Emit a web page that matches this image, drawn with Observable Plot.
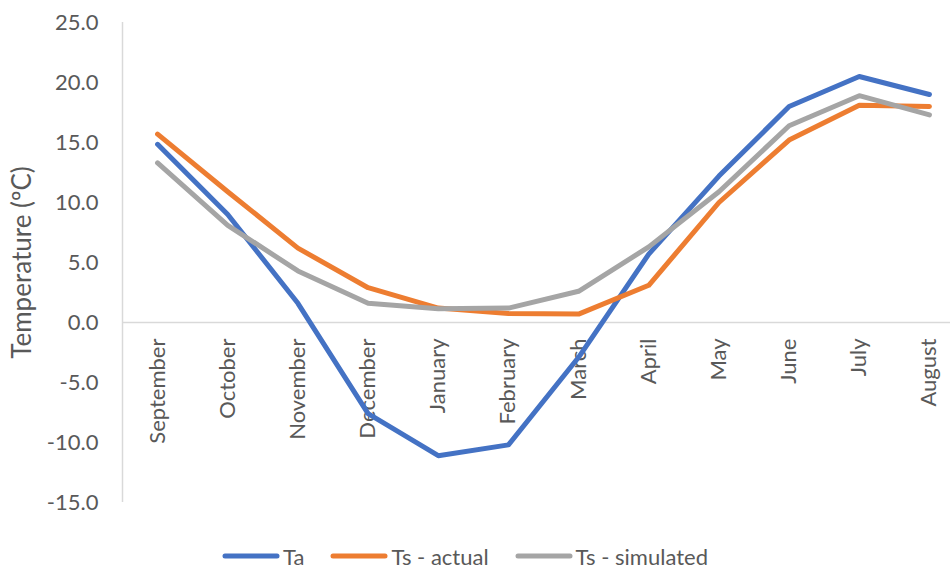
<!DOCTYPE html>
<html>
<head>
<meta charset="utf-8">
<script src="https://cdn.jsdelivr.net/npm/d3@7"></script>
<script src="https://cdn.jsdelivr.net/npm/@observablehq/plot@0.6"></script>
<style>
  body { margin: 0; background: #fff; font-family: Lato, "Noto Sans", sans-serif; }
  #chart svg { display: block; overflow: visible; }
  #legend { display: flex; justify-content: center; align-items: center; height: 48px; margin-top: 12px; font-size: 22px; color: #595959; padding-right: 20px; }
  .item { display: flex; align-items: center; margin: 0 13px; }
  .item svg { margin-right: 3px; }
</style>
</head>
<body>
<div id="chart"></div>
<div id="legend"></div>
<script>
const months = ["September","October","November","December","January","February","March","April","May","June","July","August"];
const seriesNames = ["Ta", "Ts - actual", "Ts - simulated"];
const colors = ["#4472C4", "#ED7D31", "#A5A5A5"];
const ta = [14.85, 9.0, 1.6, -7.6, -11.1, -10.2, -2.9, 5.7, 12.2, 18.0, 20.5, 19.0];
const tsActual = [15.7, 10.9, 6.2, 2.9, 1.2, 0.75, 0.7, 3.1, 10.0, 15.2, 18.1, 18.0];
const tsSimulated = [13.3, 8.1, 4.3, 1.6, 1.15, 1.2, 2.6, 6.3, 10.9, 16.4, 18.9, 17.3];
const yTicks = [-15, -10, -5, 0, 5, 10, 15, 20, 25];

const seriesValues = [ta, tsActual, tsSimulated];
const data = seriesNames.flatMap((s, si) => seriesValues[si].map((v, i) => ({series: s, i, month: months[i], value: v})));
const monthRows = months.map((m, i) => ({i, m}));

const chart = Plot.plot({
  width: 950,
  height: 520,
  marginLeft: 122,
  marginRight: 0,
  marginTop: 22,
  marginBottom: 18,
  style: {fontFamily: "Lato, 'Noto Sans', sans-serif", fontSize: "22px", color: "#595959", background: "#fff"},
  x: {domain: [-0.5, 11.3], axis: null},
  y: {domain: [-15, 25], ticks: yTicks, tickFormat: d => d.toFixed(1), tickSize: 0, tickPadding: 24, label: null},
  color: {domain: seriesNames, range: colors},
  marks: [
    Plot.ruleX([-0.5], {y1: -15, y2: 25, stroke: "#D9D9D9", strokeWidth: 1.5}),
    Plot.ruleY([0], {x1: -0.5, x2: 11.3, stroke: "#D9D9D9", strokeWidth: 1.5}),
    Plot.text(monthRows, {x: "i", y: 0, text: "m", rotate: -90, textAnchor: "end", lineAnchor: "middle", dy: 16, fill: "#595959", fontSize: 22}),
    Plot.line(data, {x: "i", y: "value", z: "series", stroke: "series", strokeWidth: 5, strokeLinecap: "round", strokeLinejoin: "round"}),
    Plot.text(["Temperature (ºC)"], {frameAnchor: "left", textAnchor: "middle", lineAnchor: "middle", dx: -100, dy: 0, rotate: -90, fill: "#595959", fontSize: 26, text: d => d})
  ]
});
document.getElementById("chart").appendChild(chart);

const legend = document.getElementById("legend");
seriesNames.forEach((s, i) => {
  const item = document.createElement("div");
  item.className = "item";
  item.innerHTML = `<svg width="58" height="10"><line x1="3" y1="5" x2="55" y2="5" stroke="${colors[i]}" stroke-width="5" stroke-linecap="round"/></svg><span>${s}</span>`;
  legend.appendChild(item);
});
</script>
</body>
</html>
